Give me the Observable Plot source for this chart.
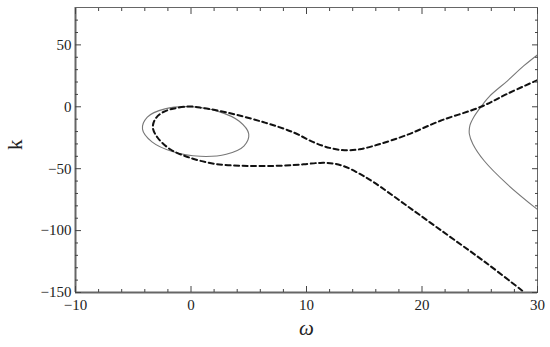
<!DOCTYPE html>
<html>
<head>
<meta charset="utf-8">
<script src="https://cdn.jsdelivr.net/npm/d3@7"></script>
<script src="https://cdn.jsdelivr.net/npm/@observablehq/plot@0.6"></script>
<style>
  body { margin: 0; background: #fff; }
  #chart { width: 550px; height: 347px; }
  #chart svg text { font-family: "Liberation Serif", "Times New Roman", serif !important; }
</style>
</head>
<body>
<div id="chart"></div>
<script>
// Axis ticks
const xMajor = [-10, 0, 10, 20, 30];
const xMinor = [-8, -6, -4, -2, 2, 4, 6, 8, 12, 14, 16, 18, 22, 24, 26, 28];
const yMajor = [50, 0, -50, -100, -150];
const yMinor = [70, 60, 40, 30, 20, 10, -10, -20, -30, -40, -60, -70, -80, -90, -110, -120, -130, -140];

// Solid closed loop (ellipse) near origin
const loopW = [5.0, 4.18, 2.35, 0.0, -2.25, -3.78, -4.2, -3.38, -1.55, 0.8, 3.05, 4.58];
const loopK = [-22, -11.7, -3.7, 0, -1.7, -8.3, -18, -28.3, -36.3, -40, -38.3, -31.7];

// Solid branch at the right
const rightW = [30, 28.8, 27.4, 25.9, 25.1, 24.5, 24.15, 24.1, 24.4, 25.4, 27.4, 30];
const rightK = [42, 33, 21, 9, 0, -8, -15, -22, -30, -43.8, -62.7, -83];

// Dashed curve
const dashW = [30, 27.5, 25.1, 21.6, 18.7, 16.2, 14.6, 13.3, 12.0, 10.6, 8.9, 6.3, 3.1, 1.1, -0.3, -2.35, -3.1, -3.3, -2.9, -1.8, -0.3, 2.0, 4.9, 8.0, 9.8, 11.2, 12.3, 13.3, 14.5, 15.8, 18.7, 22.2, 25.4, 28.6, 29.4];
const dashK = [21.6, 11, 0, -11.3, -22.7, -30.5, -34.3, -35.1, -33.2, -28.6, -20.8, -12.5, -4.6, -1.1, 0.2, -4, -10, -16.8, -24.8, -34.3, -40.5, -46, -47.8, -47.5, -46.4, -45.3, -45.8, -48.2, -53.6, -60.8, -80, -103.5, -125, -148, -154];

const toRows = (ws, ks) => ws.map((w, i) => ({w, k: ks[i]}));
const loop = toRows(loopW, loopK);
const right = toRows(rightW, rightK);
const dashed = toRows(dashW, dashK);

const font = "Liberation Serif";
const axisColor = "#666";
const minus = d => d < 0 ? "\u2212" + Math.abs(d) : String(d);

const plot = Plot.plot({
  width: 550,
  height: 347,
  marginLeft: 75,
  marginRight: 13,
  marginTop: 7,
  marginBottom: 55,
  style: {fontFamily: font, fontSize: "14px", color: "#222", background: "#fff"},
  x: {domain: [-10, 30]},
  y: {domain: [-150, 80.2]},
  marks: [
    Plot.line(loop, {x: "w", y: "k", curve: "catmull-rom-closed", stroke: "#777", strokeWidth: 1.1}),
    Plot.line(right, {x: "w", y: "k", curve: "catmull-rom", stroke: "#777", strokeWidth: 1.1, clip: true}),
    Plot.line(dashed, {x: "w", y: "k", curve: "catmull-rom", stroke: "#111", strokeWidth: 2, strokeDasharray: "5,3.5", clip: true}),
    Plot.frame({stroke: axisColor, strokeWidth: 1}),
    Plot.ruleX([-10], {stroke: axisColor, strokeWidth: 2}),
    Plot.ruleY([-150], {stroke: axisColor, strokeWidth: 2}),
    // major ticks, inward, all four sides
    Plot.axisX(xMajor, {anchor: "bottom", tickSize: -6, tickFormat: () => "", label: null, stroke: "#444"}),
    Plot.axisX(xMajor, {anchor: "top", tickSize: -6, tickFormat: () => "", label: null, stroke: "#444"}),
    Plot.axisY(yMajor, {anchor: "left", tickSize: -6, tickFormat: () => "", label: null, stroke: "#444"}),
    Plot.axisY(yMajor, {anchor: "right", tickSize: -6, tickFormat: () => "", label: null, stroke: "#444"}),
    // minor ticks
    Plot.axisX(xMinor, {anchor: "bottom", tickSize: -3, tickFormat: () => "", label: null, stroke: "#444"}),
    Plot.axisX(xMinor, {anchor: "top", tickSize: -3, tickFormat: () => "", label: null, stroke: "#444"}),
    Plot.axisY(yMinor, {anchor: "left", tickSize: -3, tickFormat: () => "", label: null, stroke: "#444"}),
    Plot.axisY(yMinor, {anchor: "right", tickSize: -3, tickFormat: () => "", label: null, stroke: "#444"}),
    // tick labels
    Plot.axisX(xMajor, {anchor: "bottom", tickSize: 0, tickPadding: 7, label: null, fontSize: 15, fontFamily: font, tickFormat: minus}),
    Plot.axisY(yMajor, {anchor: "left", tickSize: 0, tickPadding: 4, label: null, fontSize: 15, fontFamily: font, tickFormat: minus}),
    // axis titles
    Plot.text(["\u03c9"], {frameAnchor: "bottom", dy: 42, fontSize: 21, fontStyle: "italic", fontFamily: font, fill: "#222"}),
    Plot.text(["k"], {frameAnchor: "left", dx: -60, rotate: -90, fontSize: 21, fontFamily: font, fill: "#222"})
  ]
});
document.getElementById("chart").appendChild(plot);
</script>
</body>
</html>
